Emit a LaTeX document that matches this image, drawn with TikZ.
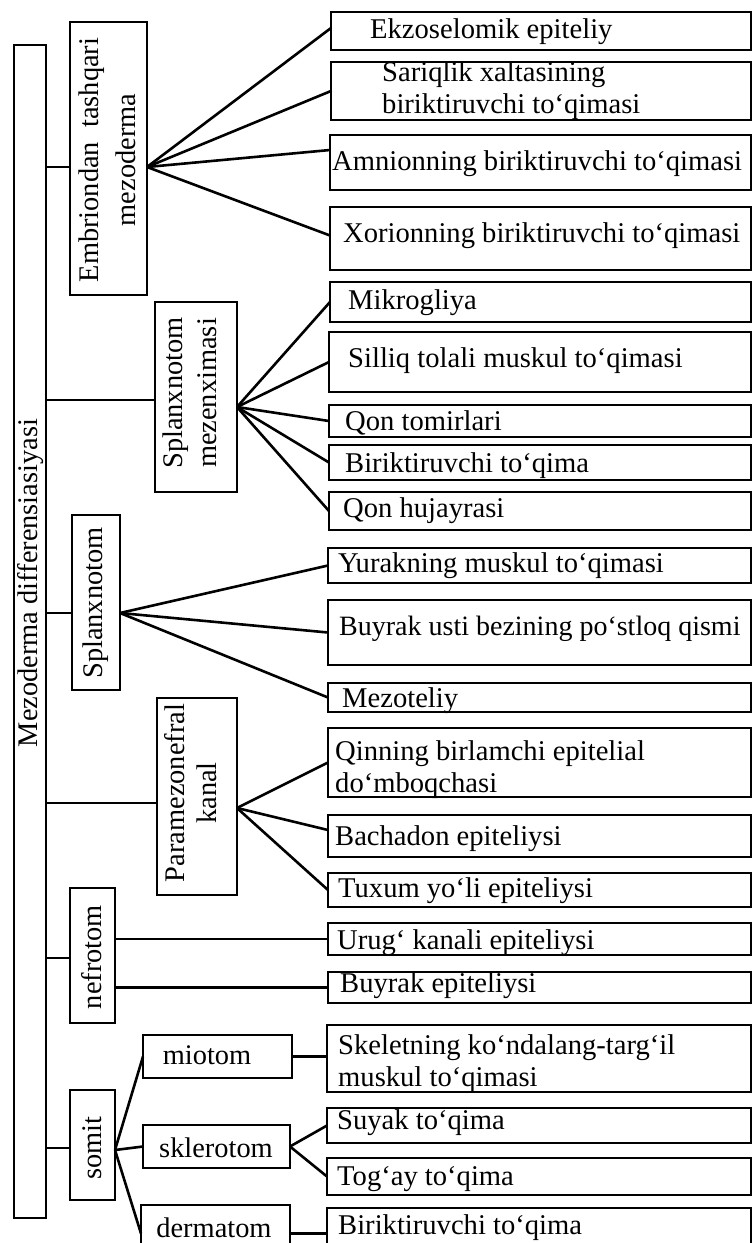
\documentclass[tikz,border=0pt]{standalone}
\usepackage{fontspec}
\setmainfont{Liberation Serif}
\begin{document}
\begin{tikzpicture}[x=1pt,y=-1pt]
\tikzset{
 box/.style={draw, line width=2.8pt, inner sep=0pt, outer sep=0pt, anchor=north west},
 lbl/.style={font=\fontsize{28.6}{32}\selectfont, inner sep=0pt, anchor=west, align=left},
 vlbl/.style={font=\fontsize{28.4}{36}\selectfont, inner sep=0pt, rotate=90, align=center},
 clbl/.style={font=\fontsize{28.4}{32}\selectfont, inner sep=0pt},
 conn/.style={line width=2.6pt},
}
\newcommand\nbx[5]{\node[box, minimum width={#4-#2}, minimum height={#5-#3}] (#1) at (#2,#3) {};}
\useasboundingbox (0,0) rectangle (753,1243);
\fill[white] (0,0) rectangle (753,1243);
\clip (0,0) rectangle (753,1243);
% boxes
\nbx{main}{14}{45}{46}{1218}
\nbx{emb}{70}{22}{147}{295}
\nbx{ekz}{331}{12}{751}{50}
\nbx{sar}{331}{62}{751}{120}
\nbx{amn}{330}{135}{751}{190}
\nbx{xor}{330}{207}{751}{270}
\nbx{mik}{330}{282}{751}{322}
\nbx{sil}{329}{332}{751}{392}
\nbx{qtom}{329}{405}{751}{437}
\nbx{bira}{329}{445}{751}{480}
\nbx{qhuj}{329}{492}{751}{530}
\nbx{splm}{155}{302}{237}{492}
\nbx{spl}{72}{515}{120}{690}
\nbx{yur}{328}{548}{751}{583}
\nbx{buyu}{328}{600}{751}{665}
\nbx{mez}{328}{683}{751}{712}
\nbx{para}{157}{698}{237}{895}
\nbx{qin}{328}{728}{751}{797}
\nbx{bach}{328}{815}{751}{857}
\nbx{tux}{328}{873}{751}{907}
\nbx{nef}{70}{888}{115}{1023}
\nbx{urug}{328}{923}{751}{955}
\nbx{buye}{328}{972}{751}{1003}
\nbx{somit}{70}{1090}{115}{1200}
\nbx{mio}{143}{1035}{292}{1078}
\nbx{skl}{143}{1125}{290}{1168}
\nbx{der}{141}{1205}{290}{1262}
\nbx{ske}{327}{1025}{751}{1092}
\nbx{suy}{327}{1108}{751}{1143}
\nbx{tog}{327}{1158}{751}{1195}
\nbx{birb}{327}{1208}{751}{1262}
% labels
\node[vlbl] (tmain) at (31,583) {Mezoderma differensiasiyasi};
\node[vlbl, font=\fontsize{28.4}{37}\selectfont] (temb) at (107,160) {Embriondan\ \ tashqari\\mezoderma};
\node[vlbl, font=\fontsize{28.4}{34}\selectfont] (tsplm) at (190,393) {Splanxnotom\\mezenximasi};
\node[vlbl] (tspl) at (96,603) {Splanxnotom};
\node[vlbl, font=\fontsize{28.4}{32}\selectfont] (tpara) at (191,793) {Paramezonefral\\kanal};
\node[vlbl] (tnef) at (92,957) {nefrotom};
\node[vlbl] (tsomit) at (92,1148) {somit};
\node[clbl] (tmio) at (207,1055) {miotom};
\node[clbl] (tskl) at (216,1148) {sklerotom};
\node[clbl] (tder) at (214,1228) {dermatom};
\node[lbl] (tekz) at (370,32) {Ekzoselomik epiteliy};
\node[lbl] (tsar) at (382,91) {Sariqlik xaltasining\\biriktiruvchi to‘qimasi};
\node[lbl] (tamn) at (332,164) {Amnionning biriktiruvchi to‘qimasi};
\node[lbl] (txor) at (343,236) {Xorionning biriktiruvchi to‘qimasi};
\node[lbl] (tmik) at (348,303) {Mikrogliya};
\node[lbl] (tsil) at (348,361) {Silliq tolali muskul to‘qimasi};
\node[lbl] (tqtom) at (345,423) {Qon tomirlari};
\node[lbl] (tbira) at (345,466) {Biriktiruvchi to‘qima};
\node[lbl] (tqhuj) at (343,511) {Qon hujayrasi};
\node[lbl] (tyur) at (338,566) {Yurakning muskul to‘qimasi};
\node[lbl, font=\fontsize{28}{32}\selectfont] (tbuyu) at (339,629) {Buyrak usti bezining po‘stloq qismi};
\node[lbl] (tmez) at (342,701) {Mezoteliy};
\node[lbl] (tqin) at (335,770) {Qinning birlamchi epitelial\\do‘mboqchasi};
\node[lbl] (tbach) at (335,839) {Bachadon epiteliysi};
\node[lbl] (ttux) at (338,891) {Tuxum yo‘li epiteliysi};
\node[lbl] (turug) at (337,943) {Urug‘ kanali epiteliysi};
\node[lbl] (tbuye) at (340,986) {Buyrak epiteliysi};
\node[lbl] (tske) at (338,1064) {Skeletning ko‘ndalang-targ‘il\\muskul to‘qimasi};
\node[lbl] (tsuy) at (337,1123) {Suyak to‘qima};
\node[lbl] (ttog) at (337,1179) {Tog‘ay to‘qima};
\node[lbl] (tbirb) at (338,1228) {Biriktiruvchi to‘qima};
% connection points
\coordinate (embw) at ([yshift=-8.5pt]emb.west);
\coordinate (embe) at ([yshift=-8.5pt]emb.east);
\coordinate (splmw) at ([yshift=-3pt]splm.west);
\coordinate (splme) at ([yshift=-10pt]splm.east);
\coordinate (splw) at ([yshift=-10.5pt]spl.west);
\coordinate (sple) at ([yshift=-10.5pt]spl.east);
\coordinate (paraw) at ([yshift=-6.5pt]para.west);
\coordinate (parae) at ([yshift=-11.5pt]para.east);
\coordinate (nefw) at ([yshift=-2.5pt]nef.west);
\coordinate (somw) at ([yshift=-3pt]somit.west);
\coordinate (some) at ([yshift=-5pt]somit.east);
% connectors
\draw[conn] (main.east |- embw) -- (embw);
\draw[conn] (main.east |- splmw) -- (splmw);
\draw[conn] (main.east |- splw) -- (splw);
\draw[conn] (main.east |- paraw) -- (paraw);
\draw[conn] (main.east |- nefw) -- (nefw);
\draw[conn] (main.east |- somw) -- (somw);
\draw[conn] (embe) -- ([yshift=3pt]ekz.west);
\draw[conn] (embe) -- (sar.west);
\draw[conn] (embe) -- ([yshift=12.5pt]amn.west);
\draw[conn] (embe) -- ([yshift=3pt]xor.west);
\draw[conn] (splme) -- (mik.west);
\draw[conn] (splme) -- (sil.west);
\draw[conn] (splme) -- (qtom.west);
\draw[conn] (splme) -- (bira.west);
\draw[conn] (splme) -- (qhuj.west);
\draw[conn] (sple) -- (yur.west);
\draw[conn] (sple) -- (buyu.west);
\draw[conn] (sple) -- (mez.west);
\draw[conn] (parae) -- (qin.west);
\draw[conn] (parae) -- ([yshift=6pt]bach.west);
\draw[conn] (parae) -- (tux.west);
\draw[conn] (nef.east |- urug.west) -- (urug.west);
\draw[conn] (nef.east |- buye.west) -- (buye.west);
\draw[conn] (some) -- (mio.west);
\draw[conn] (some) -- (skl.west);
\draw[conn] (some) -- (der.west);
\draw[conn] (mio.east) -- (mio.east -| ske.west);
\draw[conn] (skl.east) -- (suy.west);
\draw[conn] (skl.east) -- (tog.west);
\draw[conn] (der.east) -- (der.east -| birb.west);
\end{tikzpicture}
\end{document}
